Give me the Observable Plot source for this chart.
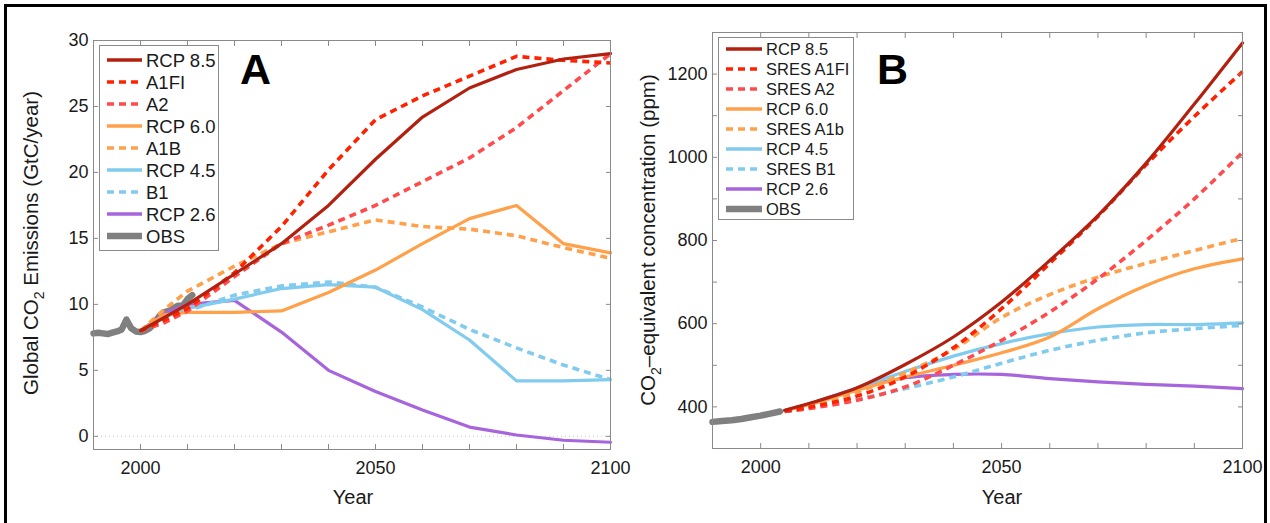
<!DOCTYPE html>
<html><head><meta charset="utf-8">
<script src="https://cdn.jsdelivr.net/npm/d3@7"></script>
<script src="https://cdn.jsdelivr.net/npm/@observablehq/plot@0.6"></script>
<style>
body{margin:0;background:#fff;font-family:"Liberation Sans",Arial,sans-serif}
#root{position:relative;width:1270px;height:523px;overflow:hidden;background:#fff}
#border{position:absolute;left:4px;top:4px;width:1263px;height:540px;border:3px solid #000;box-sizing:border-box}
.panel{position:absolute;top:0}
#overlay{position:absolute;left:0;top:0}
</style></head>
<body><div id="root"><div id="border"></div><div id="pa" class="panel" style="left:0"></div><div id="pb" class="panel" style="left:630px"></div></div>
<script>
// ---------- Panel A: Global CO2 emissions (GtC/year) ----------
const yearsA = [2000, 2005, 2010, 2020, 2030, 2040, 2050, 2060, 2070, 2080, 2090, 2100];
const rcp85A = [8.0, 9.0, 10.0, 12.3, 14.6, 17.5, 21.0, 24.2, 26.4, 27.8, 28.6, 29.0];
const a1fiA  = [8.0, 8.8, 9.7, 12.4, 15.9, 20.2, 24.0, 25.8, 27.3, 28.8, 28.5, 28.3];
const a2A    = [8.0, 8.6, 9.5, 12.1, 14.6, 16.0, 17.5, 19.3, 21.1, 23.4, 26.2, 29.0];
const rcp60A = [8.0, 9.2, 9.4, 9.4, 9.5, 10.9, 12.6, 14.6, 16.5, 17.5, 14.6, 13.9];
const a1bA   = [8.0, 9.6, 11.0, 12.9, 14.6, 15.5, 16.4, 15.9, 15.7, 15.2, 14.3, 13.5];
const rcp45A = [8.0, 9.0, 9.7, 10.4, 11.2, 11.5, 11.3, 9.6, 7.3, 4.2, 4.2, 4.3];
const b1A    = [8.0, 8.8, 9.5, 10.7, 11.4, 11.7, 11.3, 9.8, 8.1, 6.7, 5.4, 4.3];
const rcp26A = [8.0, 9.3, 10.0, 10.3, 7.9, 5.0, 3.4, 2.0, 0.7, 0.1, -0.3, -0.45];
const obsYearsA = [1990,1991,1992,1993,1994,1995,1996,1997,1998,1999,2000,2001,2002,2003,2004,2005,2006,2007,2008,2009,2010,2011];
const obsA      = [7.8,7.85,7.8,7.75,7.85,7.95,8.1,8.85,8.2,7.95,7.9,8.0,8.2,8.6,9.1,9.4,9.5,9.7,9.9,9.9,10.4,10.7];
const namesA = ["RCP 8.5","A1FI","A2","RCP 6.0","A1B","RCP 4.5","B1","RCP 2.6","OBS"];

// ---------- Panel B: CO2-equivalent concentration (ppm) ----------
const yearsB = [2005, 2010, 2020, 2030, 2040, 2050, 2060, 2070, 2080, 2090, 2100];
const rcp85B = [392, 408, 446, 502, 568, 652, 752, 860, 986, 1128, 1275];
const a1fiB  = [390, 399, 426, 472, 542, 636, 745, 858, 982, 1098, 1206];
const a2B    = [389, 396, 416, 448, 500, 560, 628, 708, 800, 900, 1012];
const rcp60B = [391, 405, 440, 472, 500, 530, 568, 636, 692, 732, 756];
const a1bB   = [390, 404, 436, 482, 538, 615, 670, 712, 745, 776, 805];
const rcp45B = [391, 407, 445, 485, 522, 552, 576, 592, 598, 598, 602];
const b1B    = [389, 398, 418, 444, 472, 505, 536, 560, 578, 588, 596];
const rcp26B = [391, 407, 444, 470, 478, 478, 468, 460, 454, 450, 444];
const obsYearsB = [1990, 1992, 1994, 1996, 1998, 2000, 2002, 2004];
const obsB      = [364, 366, 368, 371, 375, 379, 384, 389];
const namesB = ["RCP 8.5","SRES A1FI","SRES A2","RCP 6.0","SRES A1b","RCP 4.5","SRES B1","RCP 2.6","OBS"];

// ---------- styles ----------
const colors = ["#b2200f","#ff2200","#ff4b4b","#ffa04a","#ffa04a","#80cbee","#80cbee","#a665dc","#808080"];
const dashed = [false,true,true,false,true,false,true,false,false];
const widths = [3.2,3.6,3.6,3.2,3.6,3.2,3.6,3.2,6.5];
const DASH = "7,5";
const FONT = '"Liberation Sans", Arial, sans-serif';

function rows(years, vals) { return years.map((x, i) => ({x, y: vals[i]})); }

function lineMarks(seriesList, curve) {
  return seriesList.map((s, i) => Plot.line(s, {
    x: "x", y: "y", stroke: colors[i], strokeWidth: widths[i],
    strokeDasharray: dashed[i] ? DASH : null, curve, strokeLinejoin: "round",
    strokeLinecap: dashed[i] ? "butt" : "round"
  }));
}

function axes(xTicks, xLabels, yTicks, yLabels) {
  const blank = () => "";
  return [
    Plot.frame({stroke: "#8a8a8a"}),
    Plot.axisX({ticks: xTicks, tickSize: -5, tickFormat: blank, stroke: "#8a8a8a", label: null}),
    Plot.axisX({anchor: "top", ticks: xTicks, tickSize: -5, tickFormat: blank, stroke: "#8a8a8a", label: null}),
    Plot.axisX({ticks: xLabels, tickSize: 0, tickPadding: 12, tickFormat: d => String(d), label: null, fill: "#1a1a1a"}),
    Plot.axisY({ticks: yTicks, tickSize: -5, tickFormat: blank, stroke: "#8a8a8a", label: null}),
    Plot.axisY({anchor: "right", ticks: yTicks, tickSize: -5, tickFormat: blank, stroke: "#8a8a8a", label: null}),
    Plot.axisY({ticks: yLabels, tickSize: 0, tickPadding: 5, tickFormat: d => String(d), label: null, fill: "#1a1a1a"})
  ];
}

const seriesA = [rcp85A, a1fiA, a2A, rcp60A, a1bA, rcp45A, b1A, rcp26A].map(v => rows(yearsA, v));
const obsRowsA = rows(obsYearsA, obsA);
const plotA = Plot.plot({
  width: 630, height: 523, marginLeft: 93, marginRight: 20, marginTop: 40, marginBottom: 74,
  style: {fontFamily: FONT, fontSize: "18px", color: "#1a1a1a", background: "transparent", overflow: "visible"},
  x: {domain: [1990, 2100]},
  y: {domain: [-1, 30]},
  marks: [
    Plot.ruleY([0], {stroke: "#c8c8c8", strokeDasharray: "1,3"}),
    Plot.line(obsRowsA, {x: "x", y: "y", stroke: colors[8], strokeWidth: widths[8], strokeLinejoin: "round"}),
    ...lineMarks(seriesA, "linear").reverse(),
    ...axes(d3.range(1990, 2101, 10), [2000, 2050, 2100], d3.range(0, 31, 5), d3.range(0, 31, 5))
  ]
});
document.getElementById("pa").appendChild(plotA);

const seriesB = [rcp85B, a1fiB, a2B, rcp60B, a1bB, rcp45B, b1B, rcp26B].map(v => rows(yearsB, v));
const obsRowsB = rows(obsYearsB, obsB);
const plotB = Plot.plot({
  width: 640, height: 523, marginLeft: 82, marginRight: 28, marginTop: 32, marginBottom: 75,
  style: {fontFamily: FONT, fontSize: "18px", color: "#1a1a1a", background: "transparent", overflow: "visible"},
  x: {domain: [1990, 2100]},
  y: {domain: [300, 1300]},
  marks: [
    Plot.line(obsRowsB, {x: "x", y: "y", stroke: colors[8], strokeWidth: widths[8]}),
    ...lineMarks(seriesB, "catmull-rom").reverse(),
    ...axes(d3.range(1990, 2101, 10), [2000, 2050, 2100], d3.range(300, 1301, 100), d3.range(400, 1201, 200))
  ]
});
document.getElementById("pb").appendChild(plotB);

// ---------- legends, axis titles and panel letters (overlay) ----------
const svg = d3.select("#root").append("svg").attr("id", "overlay")
  .attr("width", 1270).attr("height", 523).style("pointer-events", "none")
  .attr("font-family", FONT).attr("fill", "#1a1a1a");

function legend(names, box, row0, step, lineX0, lineX1, textX, fs) {
  const g = svg.append("g");
  g.append("rect").attr("x", box[0] + 0.5).attr("y", box[1] + 0.5).attr("width", box[2]).attr("height", box[3])
    .attr("fill", "#fff").attr("stroke", "#8a8a8a");
  names.forEach((n, i) => {
    const y = row0 + i * step;
    g.append("line").attr("x1", lineX0).attr("x2", lineX1).attr("y1", y).attr("y2", y)
      .attr("stroke", colors[i]).attr("stroke-width", i === 8 ? 6.5 : 3.5)
      .attr("stroke-dasharray", dashed[i] ? DASH : null);
    g.append("text").attr("x", textX).attr("y", y + fs * 0.36).text(n)
      .attr("font-size", fs).attr("fill", "#1a1a1a");
  });
}
legend(namesA, [99, 45, 119, 205], 60, 22, 107, 142, 146, 18.5);
legend(namesB, [718, 37, 135, 182], 49, 20, 726, 762, 766, 16.5);

function yTitle(cx, cy, before, after) {
  const t = svg.append("text").attr("transform", `translate(${cx},${cy}) rotate(-90)`)
    .attr("text-anchor", "middle").attr("dy", "0.35em").attr("font-size", 20.5);
  t.append("tspan").text(before);
  t.append("tspan").text("2").attr("font-size", 14).attr("dy", 6);
  t.append("tspan").text(after).attr("dy", -6);
}
yTitle(31, 243, "Global CO", " Emissions (GtC/year)");
yTitle(648, 240, "CO", "–equivalent concentration (ppm)");

svg.append("text").attr("x", 353).attr("y", 504).attr("text-anchor", "middle").attr("font-size", 20).text("Year");
svg.append("text").attr("x", 1002).attr("y", 504).attr("text-anchor", "middle").attr("font-size", 20).text("Year");

svg.append("text").attr("x", 240).attr("y", 84).text("A")
  .attr("font-weight", "bold").attr("font-size", 43).attr("fill", "#000");
svg.append("text").attr("x", 877).attr("y", 84).text("B")
  .attr("font-weight", "bold").attr("font-size", 43).attr("fill", "#000");
</script>
</body></html>
